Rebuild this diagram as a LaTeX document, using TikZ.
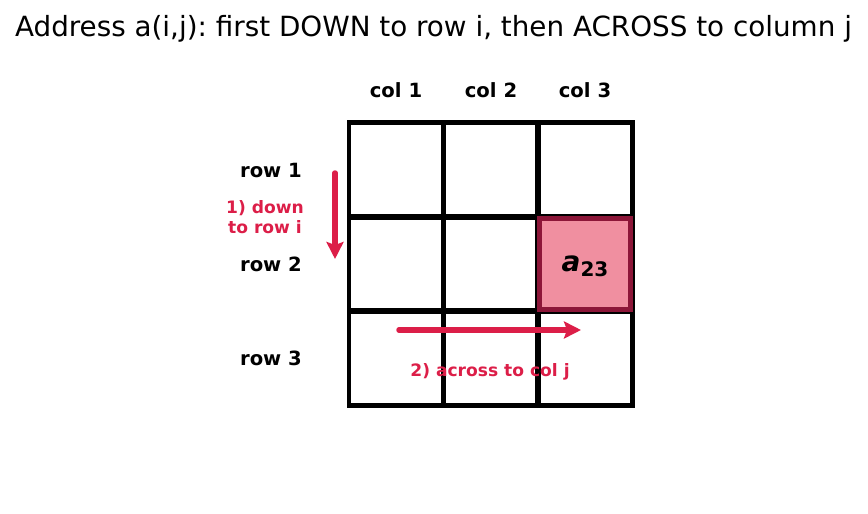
\documentclass[tikz,border=0pt]{standalone}
\usepackage{fontspec}
\setmainfont{DejaVu Sans}
\usetikzlibrary{arrows.meta}
\definecolor{crim}{RGB}{220,30,72}
\definecolor{pinkfill}{RGB}{240,143,160}
\definecolor{darkred}{RGB}{140,22,56}
\tikzset{
  cell/.style={draw=black, line width=4.8pt, minimum width=94.3pt, minimum height=94.3pt, inner sep=0pt},
  hcell/.style={draw=darkred, fill=pinkfill, line width=4.8pt, minimum width=91pt, minimum height=91pt, inner sep=0pt},
  lab/.style={font=\bfseries\fontsize{19.6}{22}\selectfont, inner sep=0pt},
  note/.style={font=\bfseries\fontsize{17.1}{20}\selectfont, text=crim, align=center, inner sep=0pt},
  guide/.style={draw=crim, line width=5.5pt, line cap=round, -{Stealth[length=17pt,width=17pt,inset=3pt]}}
}
\begin{document}
\frenchspacing
\begin{tikzpicture}[x=1pt,y=-1pt]
\useasboundingbox (0,0) rectangle (868,514);
\node[font=\fontsize{27.8}{32}\selectfont, inner sep=0pt] (title) at (433.5,28.5) {Address a(i,j): first DOWN to row i, then ACROSS to column j};
% cells
\foreach \r/\yy in {1/170,2/264,3/358}{
  \foreach \c/\xx in {1/396.2,2/491,3/585}{
    \node[cell] (c\r\c) at (\xx,\yy) {};
  }
}
\node[hcell] (h) at (585,264) {};
\node[inner sep=0pt] (a23) at (585,266) {\bfseries\fontsize{28}{30}\selectfont\itshape a\upshape\raisebox{-5pt}{\fontsize{20}{22}\selectfont 23}};
% column labels
\node[lab] (col1) at (396,90) {col 1};
\node[lab] (col2) at (491,90) {col 2};
\node[lab] (col3) at (585,90) {col 3};
% row labels
\node[lab, anchor=east] (row1) at (302,170) {row 1};
\node[lab, anchor=east] (row2) at (302,264) {row 2};
\node[lab, anchor=east] (row3) at (302,358) {row 3};
% guides
\coordinate (d1) at (335,173);
\coordinate (d2) at (335,259);
\draw[guide] (d1) -- (d2);
\node[note] (downnote) at (265,217) {1) down\\to row i};
\coordinate (a1) at (399,330);
\coordinate (a2) at (581,330);
\draw[guide] (a1) -- (a2);
\node[note] (acrossnote) at (490,372) {2) across to col j};
\end{tikzpicture}
\end{document}
